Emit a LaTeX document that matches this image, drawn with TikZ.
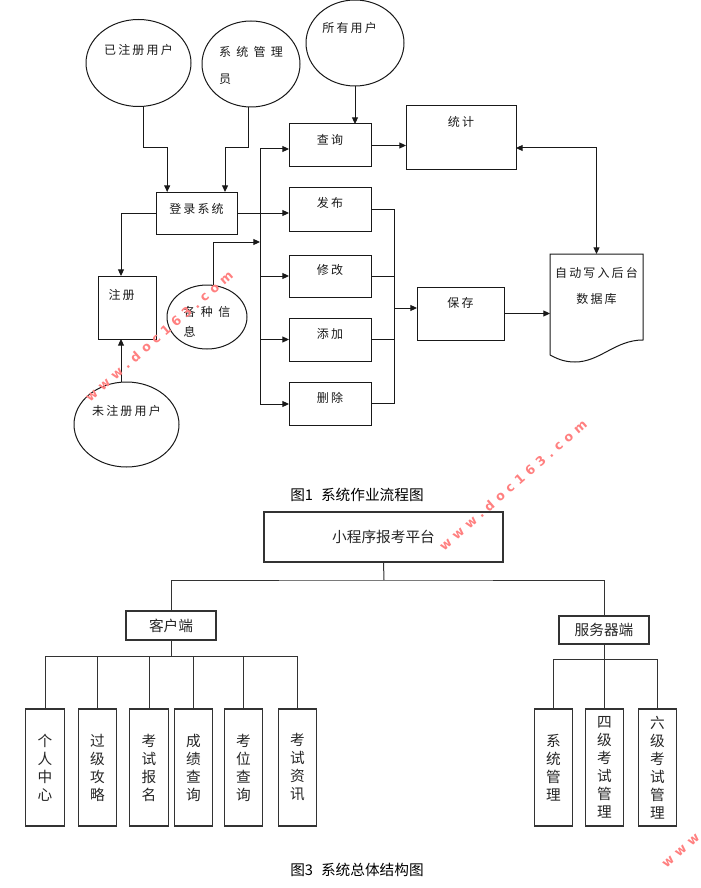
\documentclass[tikz,border=0pt]{standalone}
\usepackage{fontspec}
\setmainfont{Noto Sans CJK SC}
\newfontfamily\cjksp[LetterSpace=18]{Noto Sans CJK SC}
\newfontfamily\wmfont[LetterSpace=40]{DejaVu Sans}
\usetikzlibrary{shapes.geometric,arrows.meta}
\newcommand\gapA{\hspace{4pt}}
\begin{document}
\begin{tikzpicture}[x=0.75pt,y=-0.75pt,
  every node/.style={inner sep=0pt,outer sep=0pt},
  ln/.style={line width=0.75pt,draw=black!90},
  arr/.style={ln,-{Triangle[length=5pt,width=4.5pt]}},
  arrb/.style={ln,{Triangle[length=5pt,width=4.5pt]}-{Triangle[length=5pt,width=4.5pt]}},
  ut/.style={font=\cjksp\fontsize{9}{11}\selectfont,text=black!90},
  fbox/.style={draw=black!90,rectangle,line width=0.75pt,minimum width=61.5pt,minimum height=32.25pt},
  ell/.style={draw=black!90,ellipse,line width=0.75pt},
  lt/.style={font=\fontsize{11}{13.5}\selectfont,text=black!85},
  lbox/.style={draw=black!80,rectangle,line width=0.9pt,lt},
  vbox/.style={lbox,minimum width=29pt,minimum height=87.75pt,align=center},
  tl/.style={line width=0.75pt,draw=black!80},
  captxt/.style={font=\fontsize{11}{13}\selectfont,text=black},
  wm/.style={font=\wmfont\bfseries\fontsize{9.5}{11}\selectfont,text=red!50!white,rotate=41}
]
\useasboundingbox (0,0) rectangle (700,888);

% ---------- upper flow chart ----------
\node[ell,minimum width=78.75pt,minimum height=65.25pt,
  label={[ut,yshift=9.75pt]center:已注册用户}] (ereg) at (138.5,63) {};
\node[ell,minimum width=73.5pt,minimum height=64.5pt,
  label={[ut,align=left,yshift=-1pt]center:系\gapA 统\gapA 管\gapA 理\\[9pt]员}] (eadmin) at (251,64) {};
\node[ell,minimum width=73.5pt,minimum height=64.5pt,
  label={[ut,xshift=-4pt,yshift=11pt]center:所有用户}] (eall) at (355,43) {};
\node[ell,minimum width=78.75pt,minimum height=63.75pt,
  label={[ut,yshift=10.5pt]center:未注册用户}] (eunreg) at (126.5,424.5) {};
\node[ell,minimum width=60pt,minimum height=48pt,
  label={[ut,align=left,yshift=-3.75pt]center:各\gapA 种\gapA 信\\[4pt]息}] (einfo) at (207,317) {};

\node[fbox,label={[ut,yshift=4pt]center:查询}] (query) at (330,145.5) {};
\node[fbox,minimum height=33pt,label={[ut,yshift=4.5pt]center:发布}] (fabu) at (330,209) {};
\node[fbox,minimum height=31.5pt,label={[ut,yshift=4.5pt]center:修改}] (xiugai) at (330,276) {};
\node[fbox,label={[ut,yshift=4pt]center:添加}] (tianjia) at (330,339.5) {};
\node[fbox,label={[ut,yshift=4pt]center:删除}] (shanchu) at (330,403.5) {};
\node[fbox,minimum width=60.75pt,minimum height=31.5pt,
  label={[ut,yshift=3pt]center:登录系统}] (login) at (196.5,213) {};
\node[fbox,minimum width=82.5pt,minimum height=48pt,
  label={[ut,yshift=12pt]center:统计}] (tongji) at (461,138) {};
\node[fbox,minimum width=65.25pt,minimum height=39.75pt,
  label={[ut,yshift=8pt]center:保存}] (baocun) at (460.5,313.5) {};
\node[fbox,minimum width=43.5pt,minimum height=47.25pt,
  label={[ut,xshift=-4pt,yshift=9.4pt]center:注册}] (zhuce) at (127,307.5) {};
\node[minimum width=69.75pt,minimum height=75.75pt,
  label={[ut,align=center,yshift=14pt]center:自动写入后台\\[8.5pt]数据库}] (db) at (596.5,304.5) {};
\draw[ln] (db.south west) -- (db.north west) -- (db.north east) -- (643,340)
  .. controls (615,340) and (600,362) .. (575,362)
  .. controls (563,362) and (556,358) .. (db.south west);

% connectors
\coordinate (j1) at (143,148);
\coordinate (j2) at (248,148);
\draw[arr] (ereg.south -| j1) -- (j1) -| ([xshift=-22pt]login.north);
\draw[arr] (eadmin.south -| j2) -- (j2) -| ([xshift=21.4pt]login.north);
\draw[arr] (eall.south) -- (eall.south |- query.north);

\coordinate (bt) at (260,149);
\coordinate (bb) at (260,404);
\coordinate (bi) at (260,242);
\draw[ln] (bt) -- (bb);
\draw[arr] (bt) -- (bt -| query.west);
\draw[arr] (bb |- xiugai.west) -- (xiugai.west);
\draw[arr] (bb |- tianjia.west) -- (tianjia.west);
\draw[arr] (bb) -- (bb -| shanchu.west);
\draw[arr] (login.east) -- (login.east -| fabu.west);
\draw[arr] (login.west) -| ([xshift=-4.5pt]zhuce.north);
\draw[arr] ([xshift=-4.5pt]zhuce.south |- eunreg.north) -- ([xshift=-4.5pt]zhuce.south);
\draw[arr] ([xshift=4.5pt]einfo.north) |- (bi);

\coordinate (rb) at (394,404);
\coordinate (rm) at (394,308);
\draw[ln] (fabu.east) -| (rb);
\draw[ln] (xiugai.east) -- (xiugai.east -| rb);
\draw[ln] (tianjia.east) -- (tianjia.east -| rb);
\draw[ln] (shanchu.east) -- (shanchu.east -| rb);
\draw[arr] (rm) -- (rm -| baocun.west);
\draw[arr] (query.east) -- (query.east -| tongji.west);
\coordinate (tc) at (597,148);
\draw[arrb] (tc -| tongji.east) -| (db.north);
\draw[arr] (baocun.east) -- (baocun.east -| db.west);

\node[captxt] (cap1) at (357,495) {图1\hspace{6pt}系统作业流程图};

% ---------- lower structure chart ----------
\node[lbox,minimum width=179.25pt,minimum height=37.5pt] (root) at (383.5,537) {小程序报考平台};
\node[lbox,minimum width=67.5pt,minimum height=21.75pt] (client) at (171,625.5) {客户端};
\node[lbox,minimum width=67.5pt,minimum height=21pt] (server) at (604,630) {服务器端};
\coordinate (rj) at (384,580);
\draw[tl] (root.south) -- (rj);
\draw[tl] (client.north) |- (rj) -| (server.north);

\node[vbox] (c1) at (45,767.5) {个\\人\\中\\心};
\node[vbox] (c2) at (97.5,767.5) {过\\级\\攻\\略};
\node[vbox] (c3) at (149,767.5) {考\\试\\报\\名};
\node[vbox] (c4) at (193.5,767.5) {成\\绩\\查\\询};
\node[vbox] (c5) at (243.5,767.5) {考\\位\\查\\询};
\node[vbox] (c6) at (297.5,767.5) {考\\试\\资\\讯};
\coordinate (cj) at (171,656);
\draw[tl] (client.south) -- (cj);
\draw[tl] (c1.north) |- (c6.north |- cj) -- (c6.north);
\foreach \n in {c2,c3,c4,c5} \draw[tl] (\n.north) -- (\n.north |- cj);

\node[vbox] (s1) at (553.5,767.5) {系\\统\\管\\理};
\node[vbox] (s2) at (604.5,767.5) {四\\级\\考\\试\\管\\理};
\node[vbox] (s3) at (657.5,767.5) {六\\级\\考\\试\\管\\理};
\coordinate (sj) at (604,659);
\draw[tl] (server.south) -- (sj);
\draw[tl] (s1.north) |- (s3.north |- sj) -- (s3.north);
\draw[tl] (s2.north) -- (s2.north |- sj);

\node[captxt] (cap3) at (357,870) {图3\hspace{6pt}系统总体结构图};

% ---------- watermarks ----------
\node[wm] (wm1) at (159,336) {www.doc163.com};
\node[wm] (wm2) at (513,485) {www.doc163.com};
\begin{scope}
\clip (0,0) rectangle (700,888);
\node[wm,anchor=west] (wm3) at (664,866) {www};
\end{scope}
\end{tikzpicture}
\end{document}
